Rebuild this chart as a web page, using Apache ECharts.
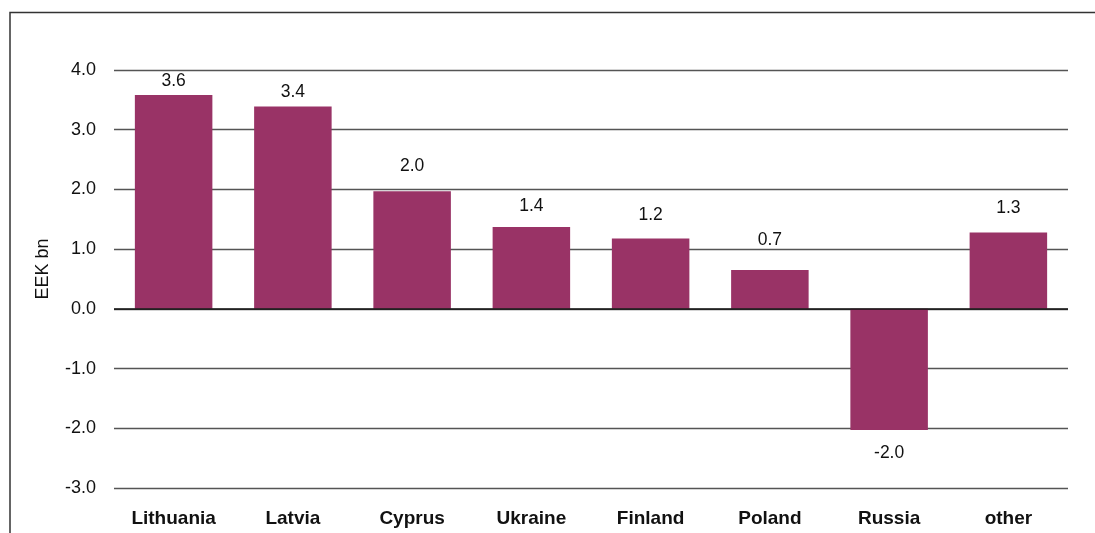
<!DOCTYPE html>
<html>
<head>
<meta charset="utf-8">
<script src="https://cdn.jsdelivr.net/npm/echarts@6/dist/echarts.min.js"></script>
<style>
html,body{margin:0;padding:0;background:#fff;}
#chart{width:1095px;height:533px;}
</style>
</head>
<body>
<div id="chart"></div>
<script>
const categories = ["Lithuania", "Latvia", "Cyprus", "Ukraine", "Finland", "Poland", "Russia", "other"];
const values = [3.58, 3.39, 1.97, 1.37, 1.18, 0.65, -2.03, 1.28];
const valueLabels = ["3.6", "3.4", "2.0", "1.4", "1.2", "0.7", "-2.0", "1.3"];
const yTicks = { min: -3, max: 4, interval: 1 };
const axisName = "EEK bn";

const labelGaps = [5, 5, 16, 12, 14, 21, 14, 15];

const chart = echarts.init(document.getElementById('chart'));
const font = '"Liberation Sans", Arial, Helvetica, sans-serif';

chart.setOption({
  animation: false,
  backgroundColor: '#fff',
  grid: { left: 114, right: 27, top: 70, bottom: 45, containLabel: false },
  graphic: [{
    type: 'polyline',
    shape: { points: [[10, 533], [10, 12.5], [1095, 12.5]] },
    style: { stroke: '#333', lineWidth: 1.5, fill: null },
    silent: true
  }],
  xAxis: {
    type: 'category',
    data: categories,
    axisLine: { show: false },
    axisTick: { show: false },
    axisLabel: { fontFamily: font, fontSize: 19, fontWeight: 'bold', color: '#111', margin: 21 }
  },
  yAxis: {
    type: 'value',
    min: yTicks.min, max: yTicks.max, interval: yTicks.interval,
    name: axisName,
    nameLocation: 'middle',
    nameGap: 62,
    nameRotate: 90,
    nameTextStyle: { fontFamily: font, fontSize: 18, color: '#111', padding: [0, 0, 0, 20] },
    axisLine: { show: false },
    axisTick: { show: false },
    axisLabel: { fontFamily: font, fontSize: 18, color: '#111', margin: 18,
      formatter: v => v.toFixed(1) },
    splitLine: { lineStyle: { color: '#555', width: 1.3 } }
  },
  series: [{
    type: 'bar',
    barWidth: '65%',
    itemStyle: { color: '#993366' },
    data: values.map((v, i) => ({
      value: v,
      label: { distance: labelGaps[i] }
    })),
    label: {
      show: true,
      position: 'outside',
      fontFamily: font, fontSize: 17.5, color: '#111',
      formatter: p => valueLabels[p.dataIndex]
    },
    markLine: {
      silent: true, symbol: 'none', label: { show: false },
      lineStyle: { color: '#111', width: 1.5, type: 'solid' },
      data: [{ yAxis: 0 }]
    }
  }]
});
</script>
</body>
</html>
